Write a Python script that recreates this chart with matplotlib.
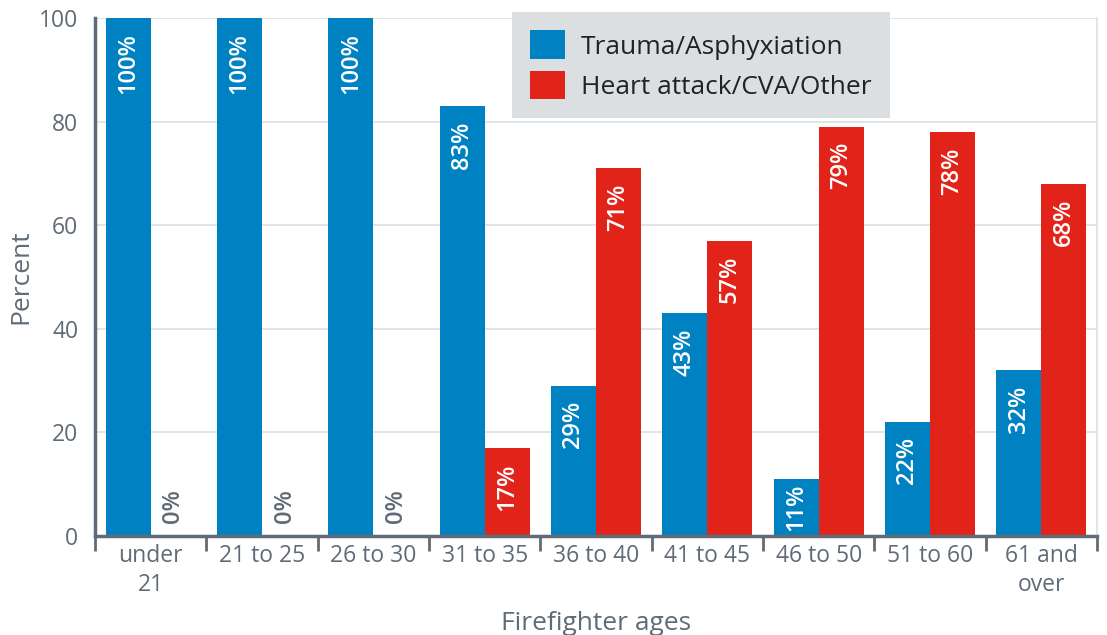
import matplotlib
matplotlib.use('Agg')
import matplotlib.pyplot as plt
import numpy as np

plt.rcParams['font.family'] = ['Open Sans', 'DejaVu Sans']

# data
ages = ['under\n21', '21 to 25', '26 to 30', '31 to 35', '36 to 40',
        '41 to 45', '46 to 50', '51 to 60', '61 and\nover']
trauma = [100, 100, 100, 83, 29, 43, 11, 22, 32]
heart = [0, 0, 0, 17, 71, 57, 79, 78, 68]

BLUE = '#0082c2'
RED = '#e2231a'
AXIS = '#5f6b77'
GRID = '#dde0e3'

fig = plt.figure(figsize=(11.07, 6.35), dpi=100)
ax = fig.add_axes([0.0858, 0.156, 0.9052, 0.8157])

x = np.arange(len(ages))
w = 0.405
b1 = ax.bar(x - w / 2, trauma, width=w, color=BLUE, label='Trauma/Asphyxiation', zorder=2)
b2 = ax.bar(x + w / 2, heart, width=w, color=RED, label='Heart attack/CVA/Other', zorder=2)

for bars, vals in [(b1, trauma), (b2, heart)]:
    for bar, v in zip(bars, vals):
        cx = bar.get_x() + bar.get_width() / 2
        kw = dict(rotation=90, ha='center', fontsize=17, fontweight='semibold', zorder=3)
        if v == 0:
            ax.annotate(f'{v}%', (cx, 0), xytext=(0, 9), textcoords='offset points',
                        va='bottom', color=AXIS, **kw)
        elif v < 15:
            # short bar: centre the label inside it
            ax.text(cx, v / 2, f'{v}%', va='center', color='white', **kw)
        else:
            ax.annotate(f'{v}%', (cx, v), xytext=(0, -11), textcoords='offset points',
                        va='top', color='white', **kw)

ax.set_xlim(-0.5, len(ages) - 0.5)
ax.set_ylim(0, 100)
ax.set_yticks([0, 20, 40, 60, 80, 100])
ax.yaxis.grid(True, color=GRID, linewidth=1.2, zorder=0)
ax.set_axisbelow(True)

# category boundaries as major ticks, labels on minor ticks
ax.set_xticks(np.arange(-0.5, len(ages), 1.0))
ax.set_xticklabels([])
ax.set_xticks(x, minor=True)
ax.set_xticklabels(ages, minor=True, fontsize=16.5, color=AXIS, linespacing=1.25)
ax.tick_params(axis='x', which='major', length=11, width=2, color=AXIS)
ax.tick_params(axis='x', which='minor', length=0, pad=6)
ax.tick_params(axis='y', length=0, labelsize=16.5, labelcolor=AXIS, pad=12)

for sp in ['left', 'bottom']:
    ax.spines[sp].set_color(AXIS)
    ax.spines[sp].set_linewidth(2.5)
ax.spines['top'].set_visible(False)
ax.spines['right'].set_color(GRID)
ax.spines['right'].set_linewidth(1.2)

ax.set_ylabel('Percent', fontsize=19, color=AXIS, labelpad=4)
ax.set_xlabel('Firefighter ages', fontsize=19, color=AXIS, labelpad=10)

leg = ax.legend(loc='upper left', bbox_to_anchor=(0.416, 1.0116), fontsize=19,
                frameon=True, fancybox=False, facecolor='#dcdfe2', edgecolor='none',
                framealpha=1, handlelength=1.33, handleheight=1.29, handletextpad=0.6,
                borderpad=0.7, labelspacing=0.42, borderaxespad=0)
for t in leg.get_texts():
    t.set_color('#222222')
leg.set_zorder(5)

fig.savefig('out.png', dpi=100, facecolor='white')
